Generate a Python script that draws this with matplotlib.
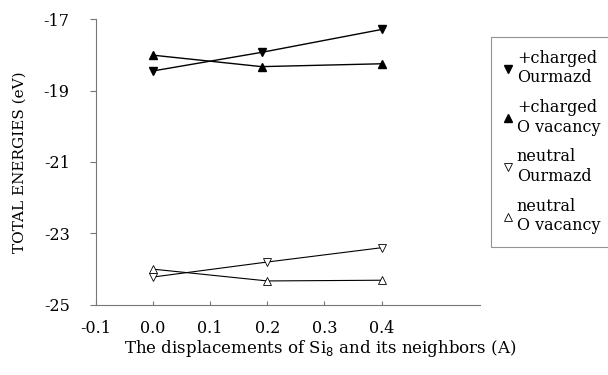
import numpy as np
import matplotlib.pyplot as plt

plt.rcParams['font.family'] = ['DejaVu Serif']

# data
disp_charged = [0.0, 0.19, 0.4]
disp_neutral = [0.0, 0.2, 0.4]
chg_ourmazd = [-18.45, -17.93, -17.29]
chg_vacancy = [-18.01, -18.33, -18.25]
neu_ourmazd = [-24.22, -23.80, -23.40]
neu_vacancy = [-24.00, -24.33, -24.31]

labels = ['+charged\nOurmazd', '+charged\nO vacancy',
          'neutral\nOurmazd', 'neutral\nO vacancy']
xticks = [-0.1, 0.0, 0.1, 0.2, 0.3, 0.4]
yticks = [-25, -23, -21, -19, -17]

fig = plt.figure(figsize=(6.08, 3.75), dpi=100)
ax = fig.add_axes([0.158, 0.187, 0.631, 0.762])

ax.plot(disp_charged, chg_ourmazd, color='black', lw=1.0, marker='v',
        ms=6, mfc='black', mec='black', label=labels[0])
ax.plot(disp_charged, chg_vacancy, color='black', lw=1.0, marker='^',
        ms=6, mfc='black', mec='black', label=labels[1])
ax.plot(disp_neutral, neu_ourmazd, color='black', lw=0.8, marker='v',
        ms=6, mfc='white', mec='black', mew=0.6, label=labels[2])
ax.plot(disp_neutral, neu_vacancy, color='black', lw=0.8, marker='^',
        ms=6, mfc='white', mec='black', mew=0.6, label=labels[3])

ax.set_xlim(-0.1, 0.572)
ax.set_ylim(-25, -17)
ax.set_xticks(xticks)
ax.set_xticklabels(['-0.1', '0.0', '0.1', '0.2', '0.3', '0.4'])
ax.set_yticks(yticks)
ax.set_yticklabels([str(v) for v in yticks])

for s in ['top', 'right']:
    ax.spines[s].set_visible(False)
for s in ['left', 'bottom']:
    ax.spines[s].set_color('#777777')
    ax.spines[s].set_linewidth(0.8)
ax.tick_params(axis='x', direction='in', length=3, color='#777777',
               labelsize=11.5, pad=11)
ax.tick_params(axis='y', direction='out', length=4, color='#777777',
               labelsize=11.5, pad=15)

ax.set_ylabel('TOTAL ENERGIES (eV)', fontsize=11, labelpad=12)
ax.set_xlabel('The displacements of Si$_8$ and its neighbors (A)',
              fontsize=12, labelpad=0)
ax.xaxis.set_label_coords(0.585, -0.115)

leg = fig.legend(loc='upper left', bbox_to_anchor=(0.808, 0.902),
                 fontsize=11.5, frameon=True, fancybox=False,
                 handlelength=0.5, handletextpad=0.3, labelspacing=0.8,
                 borderpad=0.8, borderaxespad=0, markerscale=0.85)
leg.get_frame().set_edgecolor('#777777')
leg.get_frame().set_linewidth(0.8)
for h in leg.get_lines():
    h.set_linestyle('none')

fig.savefig('out.png', dpi=100)
